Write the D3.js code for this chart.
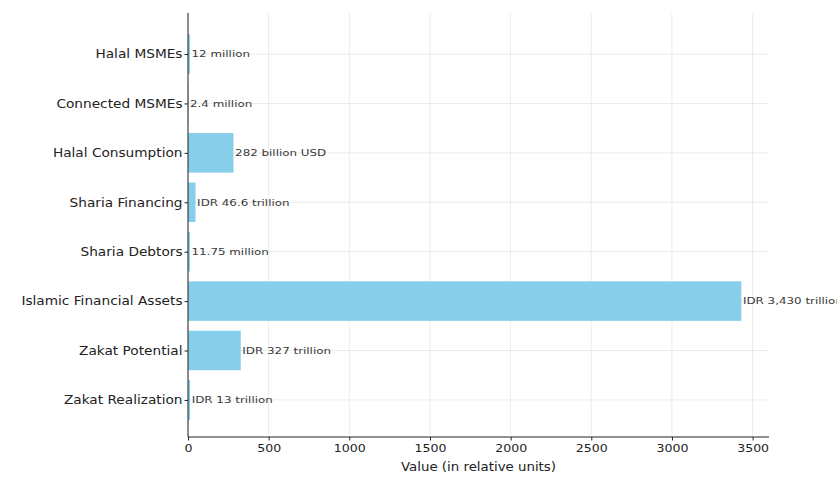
<!DOCTYPE html>
<html><head><meta charset="utf-8">
<script src="https://cdn.jsdelivr.net/npm/d3@7/dist/d3.min.js"></script>
<style>body{margin:0;background:#fff;}svg{display:block;font-family:"DejaVu Sans",sans-serif;}</style>
</head><body><svg id="c" width="837" height="477"></svg>
<script>
const categories = ["Halal MSMEs","Connected MSMEs","Halal Consumption","Sharia Financing","Sharia Debtors","Islamic Financial Assets","Zakat Potential","Zakat Realization"];
const values = [12, 2.4, 282, 46.6, 11.75, 3430, 327, 13];
const valueLabels = ["12 million","2.4 million","282 billion USD","IDR 46.6 trillion","11.75 million","IDR 3,430 trillion","IDR 327 trillion","IDR 13 trillion"];
const xTicks = [0,500,1000,1500,2000,2500,3000,3500];

const svg = d3.select("#c");
const mLeft = 188, mRight = 769, mTop = 13, mBottom = 437;
const x = d3.scaleLinear().domain([0, 3430*1.05]).range([mLeft, mRight]);
const n = categories.length;
const y = d3.scaleLinear().domain([-0.83, n-1+0.75]).range([mTop, mBottom]);

function stretch(sel, f){
  sel.each(function(){
    const w = this.getComputedTextLength();
    d3.select(this).attr("textLength", w*f).attr("lengthAdjust","spacingAndGlyphs");
  });
}

// grid
svg.append("g").selectAll("line").data(xTicks).join("line")
  .attr("x1", d=>x(d)).attr("x2", d=>x(d)).attr("y1", mTop).attr("y2", mBottom)
  .attr("stroke","#b0b0b0").attr("stroke-opacity",0.3).attr("stroke-width",0.8);
svg.append("g").selectAll("line").data(categories).join("line")
  .attr("x1", mLeft).attr("x2", mRight).attr("y1", (d,i)=>y(i)).attr("y2", (d,i)=>y(i))
  .attr("stroke","#b0b0b0").attr("stroke-opacity",0.3).attr("stroke-width",0.8);

const bh = y(0.4)-y(-0.4);
svg.append("g").selectAll("rect").data(values).join("rect")
  .attr("x", x(0)).attr("y", (d,i)=>y(i)-bh/2)
  .attr("width", d=>x(d)-x(0)).attr("height", bh)
  .attr("fill","#87ceeb");

// value labels
const vl = svg.append("g").selectAll("text").data(values).join("text")
  .attr("x", d=>x(d+10)).attr("y", (d,i)=>y(i))
  .attr("dy","0.35em").attr("font-size",9.5).attr("fill","#3a3a3a")
  .text((d,i)=>valueLabels[i]);
stretch(vl, 1.25);

// axes
const xa = svg.append("g").attr("transform",`translate(0,${mBottom})`)
  .call(d3.axisBottom(x).tickValues(xTicks).tickSize(3.5).tickPadding(3.5).tickFormat(d3.format("d")));
xa.select(".domain").remove();
xa.selectAll("text").attr("font-size",11).attr("fill","#222").attr("font-family","DejaVu Sans");
xa.selectAll("line").attr("stroke","#222");
stretch(xa.selectAll("text"), 1.14);

const ya = svg.append("g").attr("transform",`translate(${mLeft},0)`)
  .call(d3.axisLeft(y).tickValues(d3.range(n)).tickSize(3.5).tickPadding(2).tickFormat(i=>categories[i]));
ya.select(".domain").remove();
ya.selectAll("text").attr("font-size",12).attr("fill","#222").attr("font-family","DejaVu Sans");
ya.selectAll("line").attr("stroke","#222");
stretch(ya.selectAll("text"), 1.14);

// spines
svg.append("line").attr("x1",mLeft).attr("x2",mLeft).attr("y1",mTop).attr("y2",mBottom).attr("stroke","#222").attr("stroke-width",1);
svg.append("line").attr("x1",mLeft).attr("x2",mRight).attr("y1",mBottom).attr("y2",mBottom).attr("stroke","#222").attr("stroke-width",1);

const xl = svg.append("text").attr("x",(mLeft+mRight)/2).attr("y",471).attr("text-anchor","middle")
  .attr("font-size",11.5).attr("fill","#222").text("Value (in relative units)");
stretch(xl, 1.16);
</script></body></html>
